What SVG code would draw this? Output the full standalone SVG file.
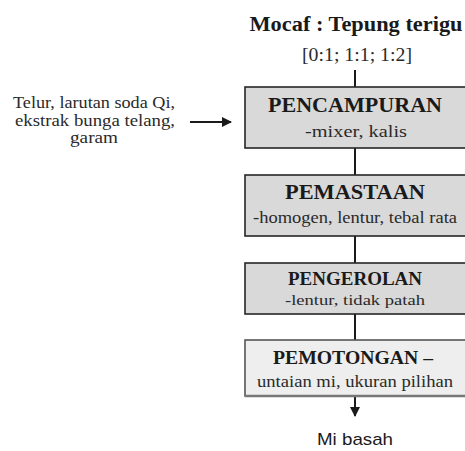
<svg xmlns="http://www.w3.org/2000/svg" width="465" height="451" viewBox="0 0 465 451">
<defs>
<style>
.head{font-family:"Liberation Serif","Times New Roman",serif;font-weight:bold;fill:#1a1a1a;text-anchor:middle}
.sub{font-family:"Liberation Serif","Times New Roman",serif;fill:#2a2a2a;text-anchor:middle}
.box{fill:#d9d9d9;stroke:#262626;stroke-width:1.6}
.box4{fill:#eeeeee;stroke:#555555;stroke-width:1.6}
.conn{stroke:#1a1a1a;stroke-width:2;fill:none}
</style>
<marker id="ah" viewBox="0 0 10 10" refX="9" refY="5" markerWidth="5" markerHeight="5" orient="auto" markerUnits="strokeWidth">
<path d="M0,0 L10,5 L0,10 z" fill="#1a1a1a"/>
</marker>
</defs>
<rect width="465" height="451" fill="#ffffff"/>

<g id="input-top">
<text class="head" x="356" y="31" font-size="20" textLength="213" lengthAdjust="spacingAndGlyphs">Mocaf : Tepung terigu</text>
<text class="sub" x="357" y="61" font-size="18" textLength="110" lengthAdjust="spacingAndGlyphs">[0:1; 1:1; 1:2]</text>
</g>

<g id="input-left">
<text class="sub" x="94" y="108" font-size="16" textLength="162" lengthAdjust="spacingAndGlyphs">Telur, larutan soda Qi,</text>
<text class="sub" x="95" y="126" font-size="16" textLength="160" lengthAdjust="spacingAndGlyphs">ekstrak bunga telang,</text>
<text class="sub" x="94" y="143" font-size="16" textLength="48" lengthAdjust="spacingAndGlyphs">garam</text>
</g>

<g id="connectors">
<line class="conn" x1="355" y1="70" x2="355" y2="87"/>
<line class="conn" x1="355" y1="148" x2="355" y2="175"/>
<line class="conn" x1="355" y1="236" x2="355" y2="263"/>
<line class="conn" x1="355" y1="314" x2="355" y2="340"/>
<line class="conn" x1="355" y1="397" x2="355" y2="416" marker-end="url(#ah)"/>
<line class="conn" x1="190" y1="122" x2="231" y2="122" marker-end="url(#ah)"/>
</g>

<g id="pencampuran">
<rect class="box" x="245" y="87" width="230" height="61"/>
<text class="head" x="355" y="112" font-size="20" textLength="174" lengthAdjust="spacingAndGlyphs">PENCAMPURAN</text>
<text class="sub" x="356" y="137" font-size="17" textLength="102" lengthAdjust="spacingAndGlyphs">-mixer, kalis</text>
</g>

<g id="pemastaan">
<rect class="box" x="245" y="175" width="230" height="61"/>
<text class="head" x="355" y="199" font-size="20" textLength="140" lengthAdjust="spacingAndGlyphs">PEMASTAAN</text>
<text class="sub" x="355" y="223" font-size="16" textLength="204" lengthAdjust="spacingAndGlyphs">-homogen, lentur, tebal rata</text>
</g>

<g id="pengerolan">
<rect class="box" x="245" y="263" width="230" height="51"/>
<text class="head" x="355" y="285" font-size="18" textLength="134" lengthAdjust="spacingAndGlyphs">PENGEROLAN</text>
<text class="sub" x="355" y="305" font-size="15" textLength="140" lengthAdjust="spacingAndGlyphs">-lentur, tidak patah</text>
</g>

<g id="pemotongan">
<rect class="box4" x="245" y="340" width="230" height="56"/>
<line x1="245" y1="396" x2="475" y2="396" stroke="#777" stroke-width="2.5"/>
<text class="head" x="353" y="364" font-size="19" textLength="160" lengthAdjust="spacingAndGlyphs">PEMOTONGAN –</text>
<text class="sub" x="355" y="387" font-size="16" textLength="196" lengthAdjust="spacingAndGlyphs">untaian mi, ukuran pilihan</text>
</g>

<g id="output">
<text x="355" y="445" font-family="'Liberation Sans',Arial,sans-serif" font-size="17" fill="#1a1a1a" text-anchor="middle" textLength="76" lengthAdjust="spacingAndGlyphs">Mi basah</text>
</g>
</svg>
